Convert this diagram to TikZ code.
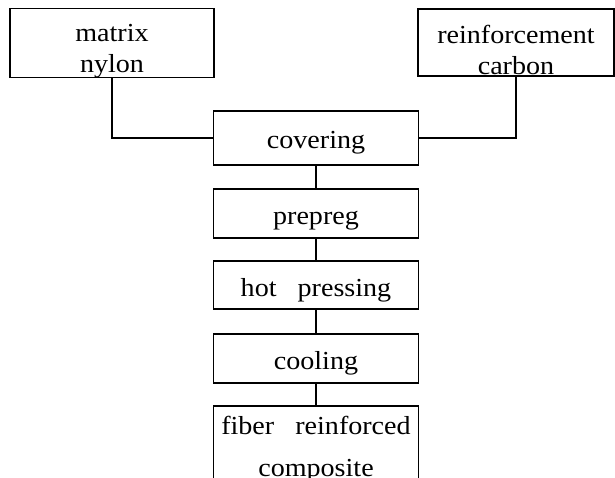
\documentclass[tikz,border=0pt]{standalone}
\usepackage{fontspec}
\setmainfont{Liberation Serif}[FakeStretch=1.08, WordSpace=3]
\newcommand\toppad{\rule{0pt}{33pt}}
\begin{document}
\begin{tikzpicture}[x=1pt,y=-1pt,
  box/.style={draw, line width=1.2pt, rectangle, inner sep=0pt, align=center,
    font=\fontsize{26}{31}\selectfont},
  onebox/.style={box, minimum width=205pt, text height=27pt, text depth=5pt},
  link/.style={draw, line width=1.2pt}]
\useasboundingbox (0,0) rectangle (615,478);
\clip (0,0) rectangle (615,478);
\node[box, minimum width=204pt, minimum height=68pt] (matrix) at (112,43) {\toppad matrix\\nylon};
\node[box, minimum width=196pt, minimum height=67pt] (reinf) at (516,42.5) {\toppad reinforcement\\carbon};
\node[onebox, minimum height=54pt] (cover) at (316,138) {covering};
\node[onebox, minimum height=49pt] (prepreg) at (316,213.5) {prepreg};
\node[onebox, minimum height=48pt] (hot) at (316,285) {hot pressing};
\node[onebox, minimum height=49pt] (cool) at (316,358.5) {cooling};
\node[box, minimum width=205pt, minimum height=80pt] (frc) at (316,446) {\rule{0pt}{24pt}fiber reinforced\\[11pt]composite};
\draw[link] (matrix.south) |- (cover.west);
\draw[link] (reinf.south) |- (cover.east);
\draw[link] (cover) -- (prepreg);
\draw[link] (prepreg) -- (hot);
\draw[link] (hot) -- (cool);
\draw[link] (cool) -- (frc);
\end{tikzpicture}
\end{document}
